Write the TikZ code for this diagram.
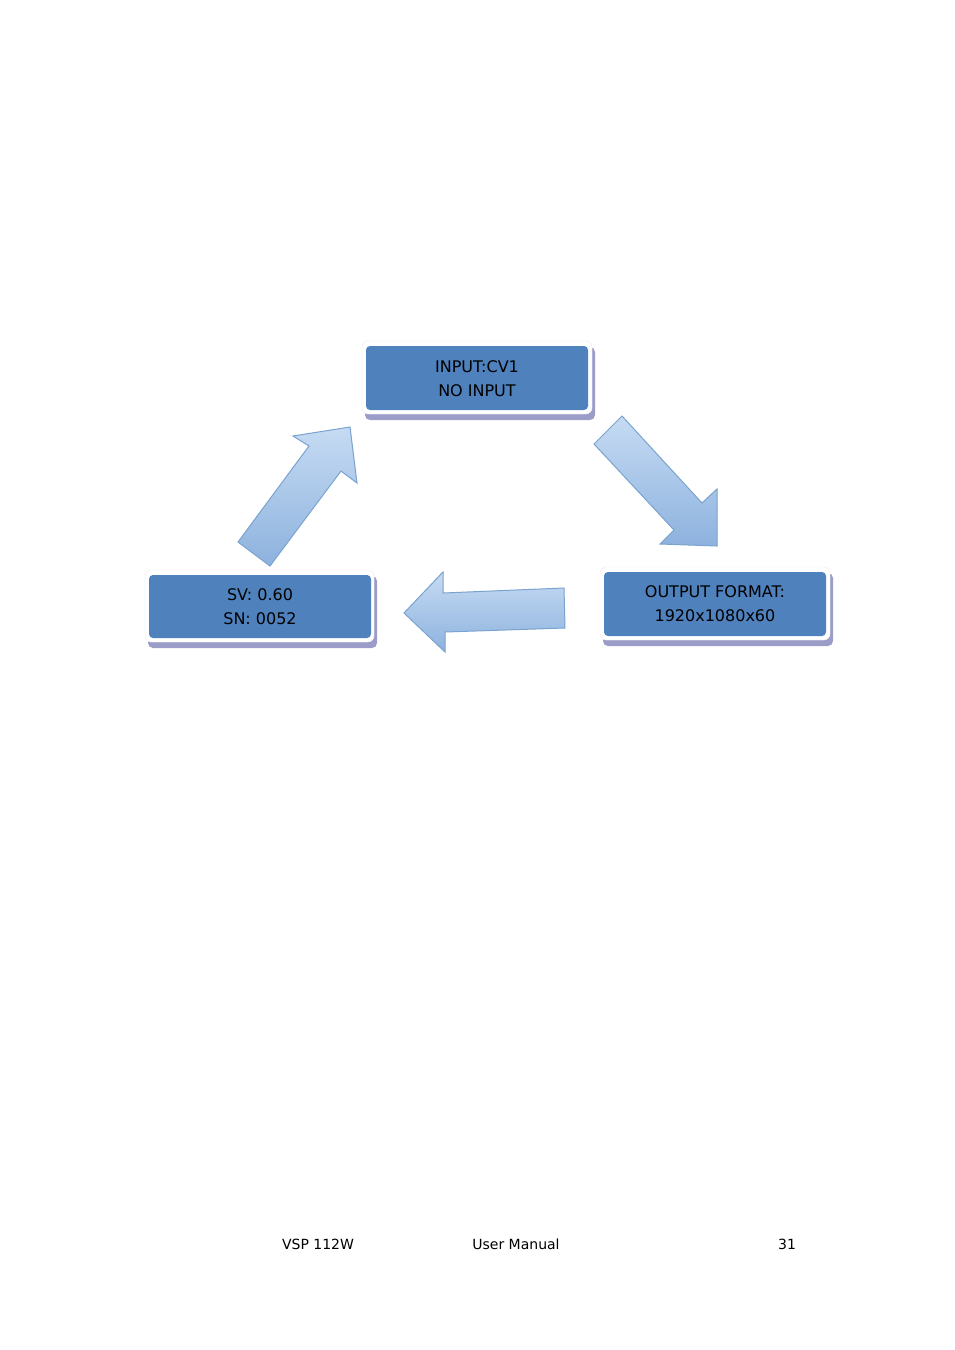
\documentclass[tikz,border=0pt]{standalone}
\usepackage{fontspec}
\setmainfont{DejaVu Sans}
\begin{document}
\begin{tikzpicture}[x=1pt,y=-1pt,
  shad/.style={fill=gray!70!blue!60, rounded corners=5pt},
  outer/.style={fill=white, draw=gray!15, rounded corners=6pt},
  inner/.style={fill=blue!45!cyan!30!black!0, fill={rgb,255:red,79;green,129;blue,189}, rounded corners=4pt},
  lbl/.style={font=\fontsize{16}{24}\selectfont, align=center, text=black},
  arr/.style={draw={rgb,255:red,122;green,163;blue,207}, line width=1pt, top color={rgb,255:red,198;green,219;blue,243}, bottom color={rgb,255:red,141;green,178;blue,222}},
  foot/.style={font=\fontsize{14}{16}\selectfont}]
\useasboundingbox (0,0) rectangle (954,1350);
\fill[white] (0,0) rectangle (954,1350);
% top box
\fill[shad] (365,347) rectangle (595,420);
\draw[outer] (362,341) rectangle (592,414);
\fill[inner] (366,346) rectangle (588,410);
\node[lbl] (top) at (477,379) {INPUT:CV1\\NO INPUT};
% left box
\fill[shad] (148,576) rectangle (377,648);
\draw[outer] (145,570) rectangle (374,642);
\fill[inner] (149,575) rectangle (371,638);
\node[lbl] (left) at (260,607) {SV: 0.60\\SN: 0052};
% right box
\fill[shad] (603,573) rectangle (833,646);
\draw[outer] (600,567) rectangle (830,640);
\fill[inner] (604,572) rectangle (826,636);
\node[lbl] (right) at (715,604) {OUTPUT FORMAT:\\1920x1080x60};
% arrows
\draw[arr] (238,542) -- (309,446) -- (293,436) -- (350,427) -- (357,483) -- (341,471) -- (270,566) -- cycle;
\draw[arr] (594,444) -- (674,530) -- (660,544) -- (717,546) -- (717,489) -- (702,503) -- (622,416) -- cycle;
\draw[arr] (564,588) -- (443,593) -- (443,572) -- (404,613) -- (445,652) -- (445,632) -- (565,628) -- cycle;
% footer
\node[foot] (f1) at (318,1244) {VSP 112W};
\node[foot] (f2) at (516,1244) {User Manual};
\node[foot] (f3) at (787,1244) {31};
\end{tikzpicture}
\end{document}
